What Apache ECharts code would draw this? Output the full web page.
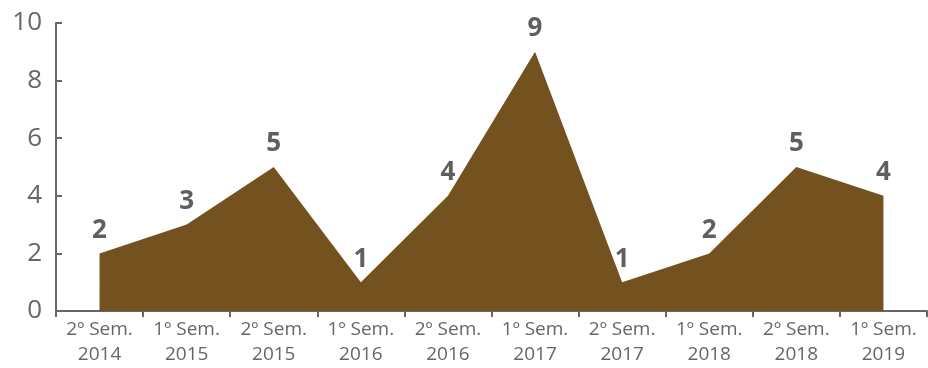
<!DOCTYPE html>
<html><head><meta charset="utf-8">
<script src="https://cdn.jsdelivr.net/npm/echarts@6/dist/echarts.min.js"></script>
<style>html,body{margin:0;padding:0;background:#fff}#c{width:928px;height:368px}</style>
</head><body><div id="c"></div>
<script>
const categories = ["2º Sem.\n2014","1º Sem.\n2015","2º Sem.\n2015","1º Sem.\n2016","2º Sem.\n2016","1º Sem.\n2017","2º Sem.\n2017","1º Sem.\n2018","2º Sem.\n2018","1º Sem.\n2019"];
const values = [2,3,5,1,4,9,1,2,5,4];
const yTicks = {min:0,max:10,interval:2};

const chart = echarts.init(document.getElementById('c'));
chart.setOption({
  animation:false,
  grid:{left:56,right:1,top:23,bottom:57,containLabel:false},
  xAxis:{type:'category',data:categories,boundaryGap:true,
    axisLine:{lineStyle:{color:'#666',width:2}},
    axisTick:{show:true,length:6,lineStyle:{color:'#666',width:2}},
    axisLabel:{color:'#666',fontSize:19,fontFamily:'Open Sans',lineHeight:25,margin:6,interval:0}
  },
  yAxis:{type:'value',min:yTicks.min,max:yTicks.max,interval:yTicks.interval,
    axisLine:{show:true,lineStyle:{color:'#666',width:2}},
    axisTick:{show:true,inside:true,length:6,lineStyle:{color:'#666',width:2}},
    splitLine:{show:false},
    axisLabel:{color:'#666',fontSize:26,fontFamily:'Open Sans',margin:14}
  },
  series:[{type:'line',data:values,symbol:'circle',symbolSize:0.1,showSymbol:true,
    itemStyle:{color:'#73521f'},
    lineStyle:{width:0,color:'#73521f'},
    areaStyle:{color:'#73521f',opacity:1},
    label:{show:true,position:'top',distance:10,color:'#5f5f5f',fontSize:26,fontWeight:'bold',fontFamily:'Open Sans'}
  }]
});
</script></body></html>
